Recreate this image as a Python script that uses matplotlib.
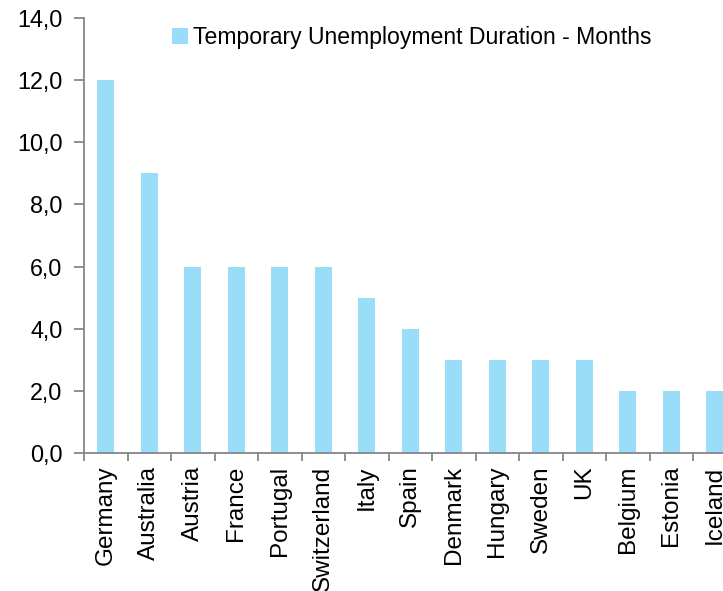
import matplotlib.pyplot as plt
from matplotlib.ticker import FuncFormatter, FixedLocator

plt.rcParams['font.family'] = ['Liberation Sans', 'DejaVu Sans']

# 数据
countries = ["Germany", "Australia", "Austria", "France", "Portugal", "Switzerland",
             "Italy", "Spain", "Denmark", "Hungary", "Sweden", "UK",
             "Belgium", "Estonia", "Iceland"]
months = [12, 9, 6, 6, 6, 6, 5, 4, 3, 3, 3, 3, 2, 2, 2]

fig = plt.figure(figsize=(7.23, 5.91), dpi=100)
# 右侧被裁切，和原图一样
ax = fig.add_axes([84 / 723, 138 / 591, 652.5 / 723, 435 / 591])

x = range(len(countries))
ax.bar(x, months, width=0.4, color='#99DDF9', label='Temporary Unemployment Duration - Months')

ax.set_xlim(-0.5, len(countries) - 0.5)
ax.set_ylim(0, 14)
ax.set_yticks(range(0, 15, 2))
ax.yaxis.set_major_formatter(FuncFormatter(lambda v, p: f'{v:.1f}'.replace('.', ',')))

ax.set_xticks(list(x))
ax.set_xticklabels(countries, rotation=90)
ax.xaxis.set_minor_locator(FixedLocator([i - 0.5 for i in range(len(countries) + 1)]))
ax.tick_params(axis='x', which='major', length=0, pad=9, labelsize=17.5)
ax.tick_params(axis='x', which='minor', length=6, width=1.3, color='#868686')
ax.tick_params(axis='y', length=7, width=1.3, color='#868686', pad=8.5, labelsize=16.8)

for s in ['top', 'right']:
    ax.spines[s].set_visible(False)
for s in ['left', 'bottom']:
    ax.spines[s].set_color('#868686')
    ax.spines[s].set_linewidth(1.3)

ax.legend(loc='upper left', bbox_to_anchor=(163 / 723, 1 - 17 / 591), bbox_transform=fig.transFigure,
          frameon=False, fontsize=16.6, handlelength=0.7, handleheight=0.7, handletextpad=0.2,
          borderaxespad=0)

plt.savefig('out.png', dpi=100)
